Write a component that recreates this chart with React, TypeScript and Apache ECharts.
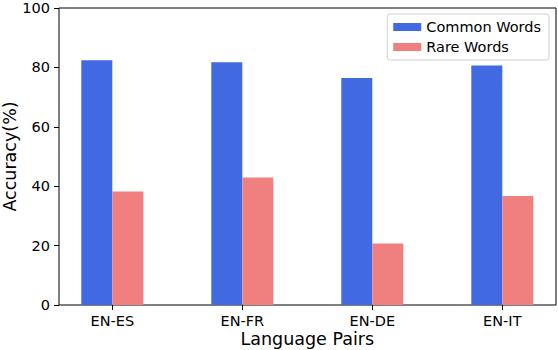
import React, { useEffect, useRef } from "react";
import * as echarts from "echarts";

const categories = ["EN-ES", "EN-FR", "EN-DE", "EN-IT"];
const commonWords = [82.4, 81.7, 76.4, 80.6];
const rareWords = [38.2, 42.9, 20.7, 36.7];
const yTicks = [0, 20, 40, 60, 80, 100];

const FONT = "DejaVu Sans";

export default function App() {
  const ref = useRef<HTMLDivElement>(null);
  useEffect(() => {
    if (!ref.current) return;
    const chart = echarts.init(ref.current, null, { renderer: "svg" });
    chart.setOption({
      animation: false,
      textStyle: { fontFamily: FONT, color: "#000" },
      grid: [
        { left: 59, top: 8, width: 497, height: 297, show: true, borderColor: "#000", borderWidth: 1, backgroundColor: "transparent", containLabel: false, outerBoundsMode: "none" },
        { left: 112.3, top: 8, width: 390, height: 297, containLabel: false, outerBoundsMode: "none" },
      ],
      xAxis: [
        { type: "value", gridIndex: 0, show: false, min: 0, max: 1 },
        {
          type: "category",
          gridIndex: 1,
          data: categories,
          boundaryGap: false,
          axisLine: { show: false },
          axisTick: { show: true, length: 5, lineStyle: { color: "#000", width: 1 } },
          axisLabel: { margin: 8, fontSize: 14.5, color: "#000", fontFamily: FONT },
          name: "Language Pairs",
          nameLocation: "middle",
          nameGap: 25,
          nameMoveOverlap: false,
          nameTextStyle: { fontSize: 17.5, color: "#000", fontFamily: FONT },
        },
      ],
      yAxis: [
        {
          type: "value",
          gridIndex: 0,
          min: yTicks[0],
          max: yTicks[yTicks.length - 1],
          interval: 20,
          axisLine: { show: false },
          axisTick: { show: true, length: 5, lineStyle: { color: "#000", width: 1 } },
          splitLine: { show: false },
          axisLabel: { margin: 9, fontSize: 14.5, color: "#000", fontFamily: FONT },
          name: "Accuracy(%)",
          nameLocation: "middle",
          nameGap: 40,
          nameMoveOverlap: false,
          nameTextStyle: { fontSize: 17.5, color: "#000", fontFamily: FONT },
        },
        { type: "value", gridIndex: 1, min: 0, max: 100, show: false },
      ],
      legend: {
        orient: "vertical",
        right: 9,
        top: 14,
        padding: [5, 8, 5, 6],
        itemGap: 4,
        itemWidth: 28,
        itemHeight: 8,
        itemTextGap: 12,
        icon: "rect",
        backgroundColor: "#fff",
        borderColor: "#d0d0d0",
        borderWidth: 1,
        borderRadius: 3,
        textStyle: { fontSize: 14.5, lineHeight: 16, color: "#000", fontFamily: FONT },
        data: ["Common Words", "Rare Words"],
      },
      series: [
        {
          name: "Common Words",
          type: "bar",
          xAxisIndex: 1,
          yAxisIndex: 1,
          data: commonWords,
          barWidth: 31,
          barGap: "0%",
          clip: false,
          itemStyle: { color: "#4169E1" },
        },
        {
          name: "Rare Words",
          type: "bar",
          xAxisIndex: 1,
          yAxisIndex: 1,
          data: rareWords,
          barWidth: 31,
          barGap: "0%",
          clip: false,
          itemStyle: { color: "#F08080" },
        },
      ],
    });
    return () => chart.dispose();
  }, []);
  return <div ref={ref} style={{ width: 558, height: 350, position: "absolute", left: 0, top: 0 }} />;
}
